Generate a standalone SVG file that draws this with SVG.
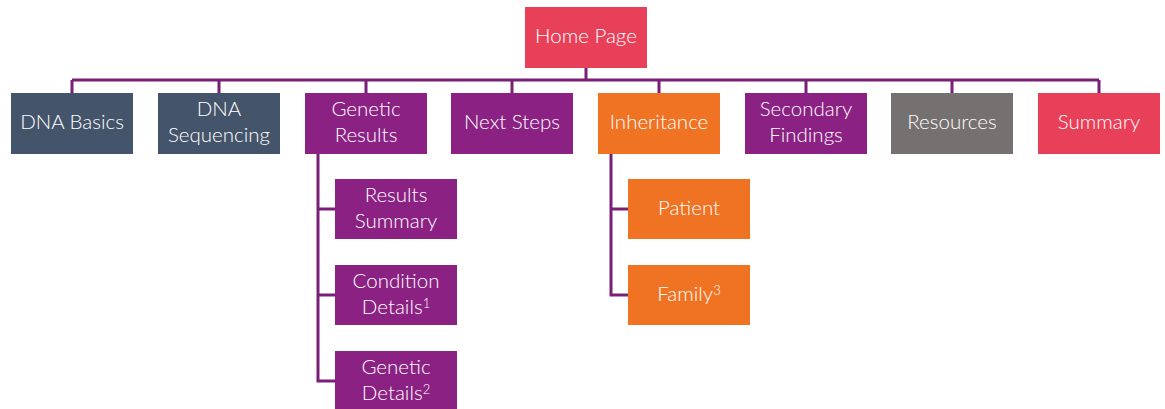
<svg xmlns="http://www.w3.org/2000/svg" width="1165" height="409" viewBox="0 0 1165 409">
<style>
text{font-family:Lato,"Open Sans","Liberation Sans",sans-serif;font-size:20.5px;font-weight:300;fill:#ffffff;text-anchor:middle}
.c{fill:none;stroke:#7a1f78;stroke-width:3}
.red{fill:#e9405a}.slate{fill:#44546a}.pur{fill:#8b2283}.org{fill:#f07223}.gry{fill:#767171}
.sup{font-size:13px}
</style>
<rect width="1165" height="409" fill="#ffffff"/>
<g id="connectors">
<path class="c" d="M586 68V80M72 80H1099M72 80V93M219 80V93M366 80V93M512 80V93M659 80V93M806 80V93M952 80V93M1099 80V93"/>
<path class="c" d="M318 154V381H335M318 209H335M318 295H335"/>
<path class="c" d="M611 154V295H628M611 209H628"/>
</g>
<g id="home"><rect class="red" x="525" y="7" width="122" height="61"/><text x="586" y="43">Home Page</text></g>
<g id="dna-basics"><rect class="slate" x="11" y="93" width="122" height="61"/><text x="72" y="129">DNA Basics</text></g>
<g id="dna-seq"><rect class="slate" x="158" y="93" width="122" height="61"/><text x="219" y="116">DNA</text><text x="219" y="142">Sequencing</text></g>
<g id="genetic-results"><rect class="pur" x="305" y="93" width="122" height="61"/><text x="366" y="116">Genetic</text><text x="366" y="142">Results</text></g>
<g id="next-steps"><rect class="pur" x="451" y="93" width="122" height="61"/><text x="512" y="129">Next Steps</text></g>
<g id="inheritance"><rect class="org" x="598" y="93" width="122" height="61"/><text x="659" y="129">Inheritance</text></g>
<g id="secondary"><rect class="pur" x="745" y="93" width="122" height="61"/><text x="806" y="116">Secondary</text><text x="806" y="142">Findings</text></g>
<g id="resources"><rect class="gry" x="891" y="93" width="122" height="61"/><text x="952" y="129">Resources</text></g>
<g id="summary"><rect class="red" x="1038" y="93" width="122" height="61"/><text x="1099" y="129">Summary</text></g>
<g id="results-summary"><rect class="pur" x="335" y="179" width="122" height="60"/><text x="396" y="202">Results</text><text x="396" y="228">Summary</text></g>
<g id="condition-details"><rect class="pur" x="335" y="265" width="122" height="60"/><text x="396" y="288">Condition</text><text x="396" y="314">Details<tspan class="sup" dy="-6">1</tspan></text></g>
<g id="genetic-details"><rect class="pur" x="335" y="351" width="122" height="58"/><text x="396" y="374">Genetic</text><text x="396" y="400">Details<tspan class="sup" dy="-6">2</tspan></text></g>
<g id="patient"><rect class="org" x="628" y="179" width="122" height="60"/><text x="689" y="215">Patient</text></g>
<g id="family"><rect class="org" x="628" y="265" width="122" height="60"/><text x="689" y="301">Family<tspan class="sup" dy="-6">3</tspan></text></g>
</svg>
